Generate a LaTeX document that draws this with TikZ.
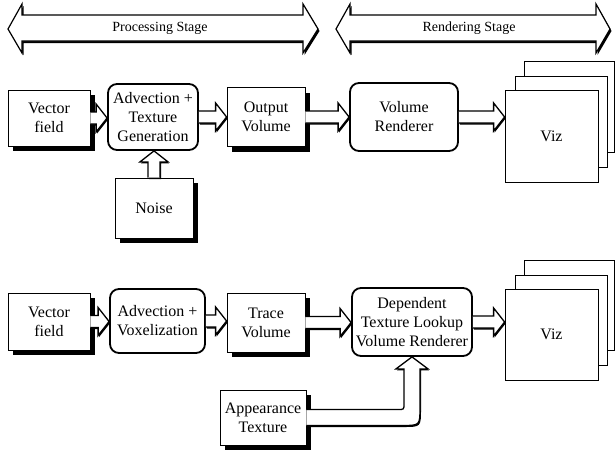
\documentclass[tikz,border=0pt]{standalone}
\usepackage{fontspec}
\setmainfont{Liberation Serif}
\usetikzlibrary{calc,shadows}
\newcommand\harr[2]{\path[blockarrow] ($(#1)+(0,-6)$) -- ($(#2)+(-11,-6)$) -- ($(#2)+(-11,-14)$) -- (#2) -- ($(#2)+(-11,14)$) -- ($(#2)+(-11,6)$) -- ($(#1)+(0,6)$);}
\newcommand\uarr[2]{\path[blockarrow] ($(#1)+(-6,0)$) -- ($(#2)+(-6,11)$) -- ($(#2)+(-14,11)$) -- (#2) -- ($(#2)+(14,11)$) -- ($(#2)+(6,11)$) -- ($(#1)+(6,0)$);}
\begin{document}
\begin{tikzpicture}[x=1pt,y=-1pt, font=\fontsize{16}{19}\selectfont,
  sqbox/.style={draw, line width=0.8pt, fill=white, align=center, inner sep=0pt,
    drop shadow={shadow xshift=5pt, shadow yshift=-5pt, fill=black, opacity=1}},
  rbox/.style={draw, line width=1.8pt, rounded corners=9pt, fill=white, align=center, inner sep=0pt},
  vizbox/.style={draw, line width=0.8pt, fill=white, inner sep=0pt},
  blockarrow/.style={draw, line width=1.3pt, fill=white, line join=miter,
    drop shadow={shadow xshift=1pt, shadow yshift=-1.5pt, fill=black, opacity=1}},
  banner/.style={draw, line width=1.2pt, fill=white,
    drop shadow={shadow xshift=1.5pt, shadow yshift=-2pt, fill=black, opacity=1}},
  bannertext/.style={font=\fontsize{14}{16}\selectfont}]
\useasboundingbox (0,0) rectangle (615,461);

% stage banners
\path[banner] (8,29) -- (22,4) -- (22,15) -- (303,15) -- (303,4) -- (318,29) -- (303,53) -- (303,41) -- (22,41) -- (22,53) -- cycle;
\path[banner] (336,29) -- (350,4) -- (350,15) -- (596,15) -- (596,4) -- (610,29) -- (596,53) -- (596,41) -- (350,41) -- (350,53) -- cycle;
\node[bannertext] (ps) at (160,28) {Processing Stage};
\node[bannertext] (rs) at (469,28) {Rendering Stage};

% row 1
\node[sqbox, minimum width=82pt, minimum height=56pt] (vf1) at (49,118) {Vector\\field};
\node[rbox, minimum width=90pt, minimum height=66pt] (adv1) at (153,117) {Advection +\\Texture\\Generation};
\node[sqbox, minimum width=78pt, minimum height=59pt] (out1) at (266,117) {Output\\Volume};
\node[sqbox, minimum width=78pt, minimum height=60pt] (noise) at (154,208) {Noise};
\node[rbox, minimum width=108pt, minimum height=68pt] (vr1) at (404,117) {Volume\\Renderer};
\node[vizbox, minimum width=90pt, minimum height=91pt] (viz1c) at (569,106.5) {};
\node[vizbox, minimum width=92pt, minimum height=91pt] (viz1b) at (561,121.5) {};
\node[vizbox, minimum width=93pt, minimum height=92pt] (viz1) at (551.5,136) {Viz};

\harr{vf1.east}{vf1.east -| adv1.west}
\harr{adv1.east}{adv1.east -| out1.west}
\harr{out1.east}{out1.east -| vr1.west}
\harr{vr1.east}{vr1.east -| viz1.west}
\uarr{noise.north}{noise.north |- adv1.south}

% row 2
\node[sqbox, minimum width=82pt, minimum height=57pt] (vf2) at (49,321.5) {Vector\\field};
\node[rbox, minimum width=95pt, minimum height=64pt] (adv2) at (157.5,321) {Advection +\\Voxelization};
\node[sqbox, minimum width=78pt, minimum height=59pt] (tr2) at (266,322.5) {Trace\\Volume};
\node[rbox, minimum width=120pt, minimum height=68pt] (dep) at (412,322) {Dependent\\Texture Lookup\\Volume Renderer};
\node[vizbox, minimum width=90pt, minimum height=90pt] (viz2c) at (569,305) {};
\node[vizbox, minimum width=92pt, minimum height=90pt] (viz2b) at (561,320) {};
\node[vizbox, minimum width=93pt, minimum height=91pt] (viz2) at (551.5,334.5) {Viz};
\node[sqbox, minimum width=86pt, minimum height=55pt] (app) at (263,417.5) {Appearance\\Texture};

\harr{vf2.east}{vf2.east -| adv2.west}
\harr{adv2.east}{adv2.east -| tr2.west}
\harr{tr2.east}{tr2.east -| dep.west}
\harr{dep.east}{dep.east -| viz2.west}

\coordinate (C) at (app.east -| dep.south);
\path[blockarrow] ($(app.east)+(0,-8)$) -- ($(C)+(-14,-8)$) .. controls ($(C)+(-8,-8)$) .. ($(C)+(-8,-14)$)
  -- ($(dep.south)+(-8,12)$) -- ($(dep.south)+(-16,12)$) -- (dep.south) -- ($(dep.south)+(16,12)$)
  -- ($(dep.south)+(8,12)$) -- ($(C)+(8,-10)$) .. controls ($(C)+(8,8)$) .. ($(C)+(-10,8)$)
  -- ($(app.east)+(0,8)$);
\end{tikzpicture}
\end{document}
